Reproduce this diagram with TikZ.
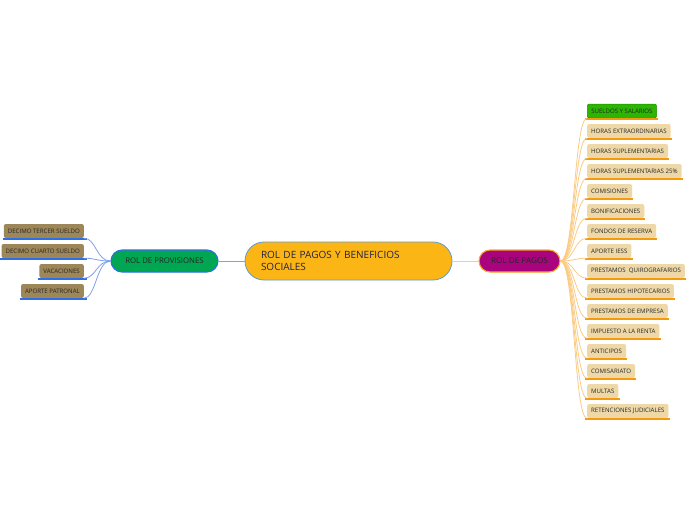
\documentclass[tikz,border=0pt]{standalone}
\usepackage{fontspec}
\setmainfont{Open Sans}
\usepackage{xcolor}

\definecolor{rootfill}{HTML}{FBB616}
\definecolor{rootdraw}{HTML}{5A9BD0}
\definecolor{roottext}{HTML}{1F2147}
\definecolor{provfill}{HTML}{00A651}
\definecolor{provdraw}{HTML}{2E6FE6}
\definecolor{provline}{HTML}{7E9EF2}
\definecolor{provleaf}{HTML}{9D8658}
\definecolor{pagofill}{HTML}{A9037E}
\definecolor{pagodraw}{HTML}{F6A623}
\definecolor{pagoline}{HTML}{FBCB84}
\definecolor{pagoleaf}{HTML}{EED8A8}
\definecolor{pagounder}{HTML}{F59A0B}
\definecolor{sueldofill}{HTML}{2CB502}
\definecolor{sueldodraw}{HTML}{1E8E00}

\begin{document}
\begin{tikzpicture}[
    x=1pt, y=1pt,
    rootbox/.style={
        draw=rootdraw, fill=rootfill, line width=0.8pt,
        rounded corners=19pt, text=roottext,
        align=left, text width=175pt, inner xsep=16pt,
        minimum height=38pt,
        font=\fontsize{10}{12}\selectfont
    },
    branchbox/.style={
        line width=1.1pt, rounded corners=11pt,
        minimum height=22pt, text=black!85,
        font=\fontsize{7.8}{9}\selectfont
    },
    provbox/.style={branchbox, draw=provdraw, fill=provfill, minimum width=107pt},
    pagobox/.style={branchbox, draw=pagodraw, fill=pagofill, minimum width=81pt,
        font=\fontsize{8.2}{9}\selectfont},
    leafbox/.style={
        rounded corners=2pt, minimum height=14pt, inner xsep=4pt,
        inner ysep=2pt, text=black!85,
        font=\fontsize{6.1}{7}\selectfont
    },
    pagoitem/.style={leafbox, fill=pagoleaf, anchor=west,
        append after command={([xshift=-2pt,yshift=-0.7pt]\tikzlastnode.south west)
            edge[draw=pagounder, line width=1.2pt] ([xshift=1pt,yshift=-0.7pt]\tikzlastnode.south east)}},
    sueldoitem/.style={fill=sueldofill, draw=sueldodraw, line width=0.5pt},
    provitem/.style={leafbox, fill=provleaf, anchor=east,
        append after command={([xshift=-1pt,yshift=-0.7pt]\tikzlastnode.south west)
            edge[draw=provdraw, line width=1.2pt] ([xshift=3pt,yshift=-0.7pt]\tikzlastnode.south east)}},
    provedge/.style={draw=provline, line width=0.8pt},
    pagoedge/.style={draw=pagoline, line width=0.8pt}
]
\useasboundingbox (0,0) rectangle (696,-520);

% Root node
\node[rootbox] (root) at (348.5,-261) {ROL DE PAGOS Y BENEFICIOS\\SOCIALES};

% Left branch
\node[provbox] (prov) at (164.5,-261) {ROL DE PROVISIONES}
    [grow=left, level distance=80.5pt, sibling distance=20pt,
     every child node/.style={provitem},
     edge from parent/.style={provedge},
     edge from parent path={(\tikzparentnode.west) .. controls +(-14,0) and +(12,0) .. (\tikzchildnode.south east)}]
    child {node (tercer) {DECIMO TERCER SUELDO}}
    child {node (cuarto) {DECIMO CUARTO SUELDO}}
    child {node (vacaciones) {VACACIONES}}
    child {node (patronal) {APORTE PATRONAL}};

% Right branch
\node[pagobox] (pagos) at (519.5,-261) {ROL DE PAGOS}
    [grow'=right, level distance=67.5pt, sibling distance=20pt,
     every child node/.style={pagoitem},
     edge from parent/.style={pagoedge},
     edge from parent path={(\tikzparentnode.east) .. controls +(14,0) and +(-13,0) .. (\tikzchildnode.south west)}]
    child {node[sueldoitem] (sueldos) {SUELDOS Y SALARIOS}}
    child {node (extra) {HORAS EXTRAORDINARIAS}}
    child {node (suple) {HORAS SUPLEMENTARIAS}}
    child {node (suple25) {HORAS SUPLEMENTARIAS 25\%}}
    child {node (comisiones) {COMISIONES}}
    child {node (bonif) {BONIFICACIONES}}
    child {node (fondos) {FONDOS DE RESERVA}}
    child {node (iess) {APORTE IESS}}
    child {node (quiro) {PRESTAMOS \ QUIROGRAFARIOS}}
    child {node (hipot) {PRESTAMOS HIPOTECARIOS}}
    child {node (empresa) {PRESTAMOS DE EMPRESA}}
    child {node (renta) {IMPUESTO A LA RENTA}}
    child {node (anticipos) {ANTICIPOS}}
    child {node (comisariato) {COMISARIATO}}
    child {node (multas) {MULTAS}}
    child {node (judiciales) {RETENCIONES JUDICIALES}};

% Root connectors
\draw[provedge] (root) -- (prov);
\draw[pagoedge] (root) -- (pagos);

\end{tikzpicture}
\end{document}
